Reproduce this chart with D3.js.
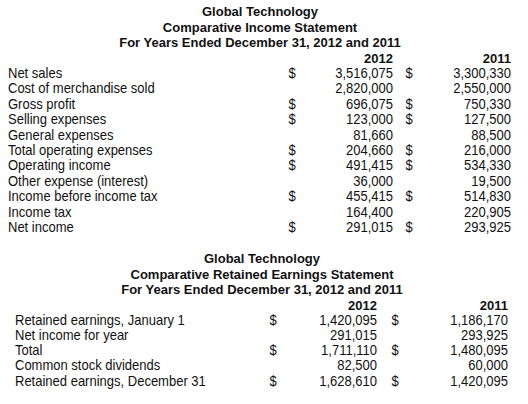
<!DOCTYPE html>
<html>
<head>
<meta charset="utf-8">
<script src="https://cdn.jsdelivr.net/npm/d3@7"></script>
<style>
  body { margin: 0; background: #fff; }
  svg text { font-family: "Liberation Sans", Arial, sans-serif; fill: #111; }
  .title { font-weight: bold; font-size: 13px; text-anchor: middle; }
  .head { font-weight: bold; font-size: 13px; text-anchor: end; }
  .cell { font-size: 14px; }
</style>
</head>
<body>
<svg id="sheet" width="528" height="404"></svg>
<script>
// ---- data ----
const company = "Global Technology";
const period = "For Years Ended December 31, 2012 and 2011";
const years = ["2012", "2011"];

const incomeTitle = "Comparative Income Statement";
const incomeLabels = ["Net sales", "Cost of merchandise sold", "Gross profit", "Selling expenses",
  "General expenses", "Total operating expenses", "Operating income", "Other expense (interest)",
  "Income before income tax", "Income tax", "Net income"];
const income2012 = [3516075, 2820000, 696075, 123000, 81660, 204660, 491415, 36000, 455415, 164400, 291015];
const income2011 = [3300330, 2550000, 750330, 127500, 88500, 216000, 534330, 19500, 514830, 220905, 293925];
const incomeDollar = [true, false, true, true, false, true, true, false, true, false, true];

const retainedTitle = "Comparative Retained Earnings Statement";
const retainedLabels = ["Retained earnings, January 1", "Net income for year", "Total",
  "Common stock dividends", "Retained earnings, December 31"];
const retained2012 = [1420095, 291015, 1711110, 82500, 1628610];
const retained2011 = [1186170, 293925, 1480095, 60000, 1420095];
const retainedDollar = [true, false, true, false, true];

const svg = d3.select("#sheet");
const fmt = d3.format(",");
const squeeze = 0.93; // the scan's body type is a bit narrower than Arial

function cell(sel, x, anchor, txt) {
  sel.append("text").attr("class", "cell")
    .attr("transform", "translate(" + x + ",0) scale(" + squeeze + ",1)")
    .attr("text-anchor", anchor)
    .text(txt);
}

function statement(opt) {
  const g = svg.append("g");
  [company, opt.title, period].forEach((t, i) => {
    g.append("text").attr("class", "title")
      .attr("x", opt.cx).attr("y", opt.top + i * 15.5).text(t);
  });
  const hy = opt.top + 3 * 15.5;
  g.append("text").attr("class", "head").attr("x", opt.v1).attr("y", hy).text(years[0]);
  g.append("text").attr("class", "head").attr("x", opt.v2).attr("y", hy).text(years[1]);

  const y = d3.scalePoint()
    .domain(opt.labels.map((d, i) => i))
    .range([hy + opt.step, hy + opt.step * opt.labels.length]);

  const rows = g.selectAll("g.row")
    .data(opt.labels.map((d, i) => ({ label: d, a: opt.a[i], b: opt.b[i], dollar: opt.dollar[i], i: i })))
    .enter().append("g").attr("class", "row")
    .attr("transform", d => "translate(0," + y(d.i) + ")");

  rows.each(function (d) {
    const r = d3.select(this);
    cell(r, opt.lx, "start", d.label);
    if (d.dollar) {
      cell(r, opt.d1, "middle", "$");
      cell(r, opt.d2, "middle", "$");
    }
    cell(r, opt.v1, "end", fmt(d.a));
    cell(r, opt.v2, "end", fmt(d.b));
  });
}

statement({
  title: incomeTitle, labels: incomeLabels, a: income2012, b: income2011, dollar: incomeDollar,
  top: 16, cx: 260, lx: 8, d1: 292, v1: 393, d2: 409, v2: 511, step: 15.4
});

statement({
  title: retainedTitle, labels: retainedLabels, a: retained2012, b: retained2011, dollar: retainedDollar,
  top: 263, cx: 262, lx: 15, d1: 273, v1: 377, d2: 395, v2: 508, step: 15.2
});
</script>
</body>
</html>
